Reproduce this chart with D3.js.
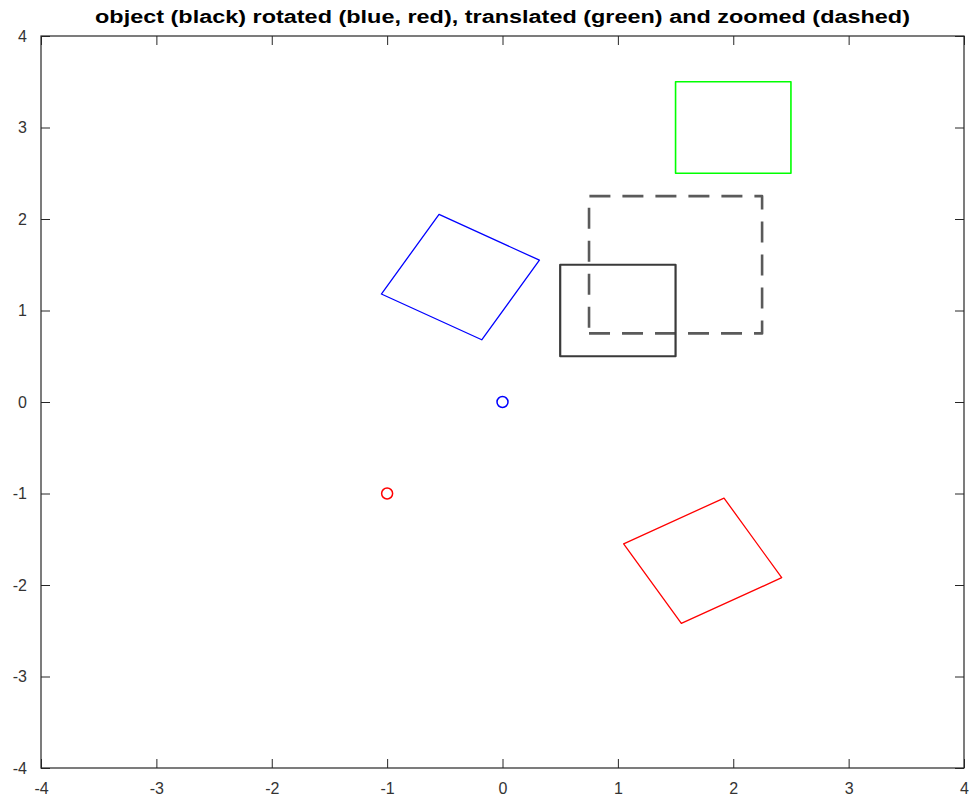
<!DOCTYPE html>
<html>
<head>
<meta charset="utf-8">
<script src="https://cdn.jsdelivr.net/npm/d3@7"></script>
<style>
  body { margin: 0; background: #fff; }
  svg text { font-family: "Liberation Sans", Arial, sans-serif; }
</style>
</head>
<body>
<div id="chartVis"></div>
<script>
  // shapes (data units)
  var objectBox = [[0.5, 0.5], [1.5, 0.5], [1.5, 1.5], [0.5, 1.5]];
  var rotBlue = [[-0.18, 0.68], [0.32, 1.55], [-0.55, 2.05], [-1.05, 1.18]];
  var rotRed = [[1.05, -1.55], [1.55, -2.42], [2.42, -1.92], [1.92, -1.05]];
  var translated = [[1.5, 2.5], [2.5, 2.5], [2.5, 3.5], [1.5, 3.5]];
  var zoomed = [[0.75, 0.75], [2.25, 0.75], [2.25, 2.25], [0.75, 2.25]];
  var centerBlue = [0, 0];
  var centerRed = [-1, -1];
  var ticks = [-4, -3, -2, -1, 0, 1, 2, 3, 4];
  var title = "object (black) rotated (blue, red), translated (green) and zoomed (dashed)";

  var width = 973;
  var height = 803;
  var margin = { top: 36, right: 9, bottom: 35, left: 41 };
  var innerWidth = width - margin.left - margin.right;
  var innerHeight = height - margin.top - margin.bottom;

  var svg = d3.select("#chartVis")
    .append("svg")
    .attr("width", width)
    .attr("height", height)
    .append("g")
    .attr("transform", "translate(" + margin.left + "," + margin.top + ")");

  var x = d3.scaleLinear().domain([-4, 4]).range([0, innerWidth]);
  var y = d3.scaleLinear().domain([-4, 4]).range([innerHeight, 0]);

  var tickLen = 9;
  var axisColor = "#262626";
  var fmt = function(d) { return String(d); }; // plain hyphen, like the original

  // ticks on all four sides, pointing inward
  function addAxis(axis, tx, ty, showLabels) {
    var g = svg.append("g")
      .attr("transform", "translate(" + tx + "," + ty + ")")
      .call(axis.tickValues(ticks).tickFormat(fmt).tickSizeInner(-tickLen).tickSizeOuter(0));
    g.attr("font-size", null).attr("font-family", null);
    g.select(".domain").remove();
    g.selectAll(".tick line").attr("stroke", axisColor).attr("stroke-width", 1);
    if (!showLabels) g.selectAll(".tick text").remove();
    g.selectAll(".tick text").style("font-size", "16px").attr("fill", "#333");
    return g;
  }

  addAxis(d3.axisBottom(x).tickPadding(15), 0, innerHeight, true);
  addAxis(d3.axisTop(x), 0, 0, false);
  addAxis(d3.axisLeft(y).tickPadding(14), 0, 0, true);
  addAxis(d3.axisRight(y), innerWidth, 0, false);

  // box
  svg.append("rect")
    .attr("x", 0).attr("y", 0)
    .attr("width", innerWidth).attr("height", innerHeight)
    .attr("fill", "none")
    .attr("stroke", axisColor)
    .attr("stroke-width", 1.2);

  var line = d3.line()
    .x(function(d) { return x(d[0]); })
    .y(function(d) { return y(d[1]); })
    .curve(d3.curveLinearClosed);

  function drawShape(pts, color, w, dash) {
    var p = svg.append("path")
      .attr("d", line(pts))
      .attr("fill", "none")
      .attr("stroke", color)
      .attr("stroke-width", w)
      .attr("stroke-linejoin", "round");
    if (dash) p.attr("stroke-dasharray", dash);
  }

  drawShape(zoomed, "#5a5a5a", 2.6, "21,12");
  drawShape(objectBox, "#3a3a3a", 2.2);
  drawShape(rotBlue, "#0000ff", 1.3);
  drawShape(rotRed, "#ff0000", 1.3);
  drawShape(translated, "#00ff00", 1.6);

  svg.append("circle")
    .attr("cx", x(centerBlue[0])).attr("cy", y(centerBlue[1]))
    .attr("r", 5.5)
    .attr("fill", "none").attr("stroke", "#0000ff").attr("stroke-width", 1.5);
  svg.append("circle")
    .attr("cx", x(centerRed[0])).attr("cy", y(centerRed[1]))
    .attr("r", 5.5)
    .attr("fill", "none").attr("stroke", "#ff0000").attr("stroke-width", 1.5);

  svg.append("text")
    .attr("x", innerWidth / 2)
    .attr("y", -13)
    .attr("text-anchor", "middle")
    .attr("font-size", 18)
    .attr("font-weight", "bold")
    .attr("fill", "#000")
    .attr("textLength", 815)
    .attr("lengthAdjust", "spacingAndGlyphs")
    .text(title);
</script>
</body>
</html>
